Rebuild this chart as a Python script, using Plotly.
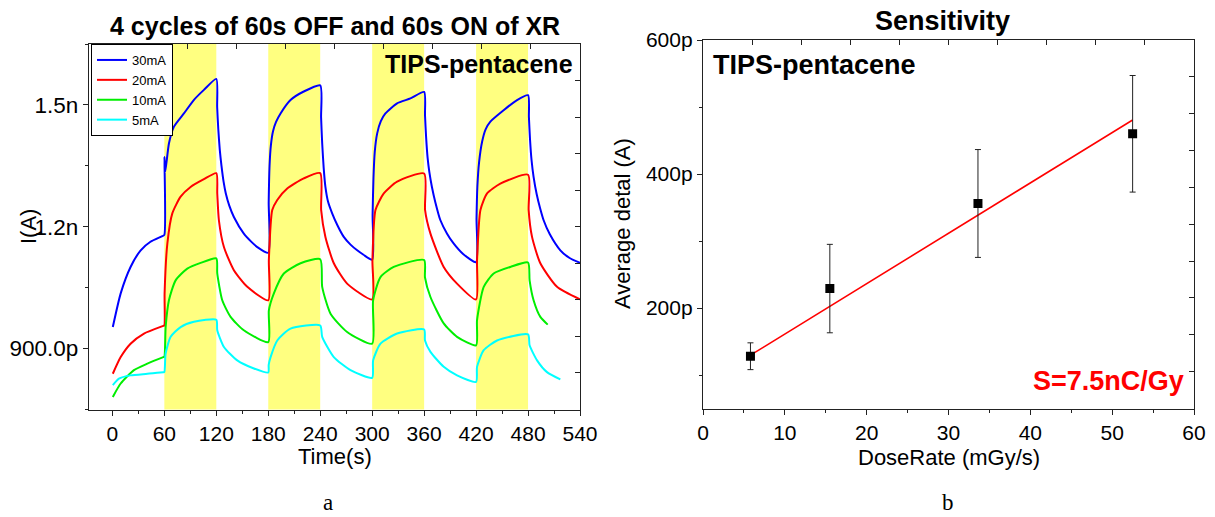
import numpy as np
import plotly.graph_objects as go

# ---------------- data: panel a (current vs time, values in pA) ----------------
on_start = [60, 180, 300, 420]
on_end = [120, 240, 360, 480]

t_30mA = [0.5, 9.6, 21, 32.7, 44, 57.7, 60,
          60.1, 61, 65.3, 71, 82.6, 94, 105.7, 120,
          121, 122.3, 124, 126, 128.5, 131, 135, 140.3, 151.8, 160, 167.3, 180,
          180.5, 181.5, 183, 185.5, 189, 194.2, 205.7, 221, 240,
          241, 242.3, 244, 246, 249, 253.8, 260, 267.2, 275, 282.7, 290, 300,
          300.5, 301.5, 303, 305.8, 310, 315.3, 328.8, 344.2, 360,
          361, 362.3, 364, 366, 369, 373, 378.8, 386.5, 394, 405, 420,
          420.5, 421.5, 423.5, 427, 431, 436.5, 451.8, 467.3, 480,
          481, 482.3, 484, 486.4, 490, 494, 498, 505, 517.3, 528, 540]
i_30mA = [953, 1036, 1101, 1142, 1163, 1177, 1180,
          1372, 1335, 1405, 1446, 1479, 1512, 1537, 1564,
          1495, 1440, 1390, 1350, 1310, 1282, 1252, 1224, 1183, 1164, 1150, 1136,
          1260, 1350, 1400, 1435, 1458, 1479, 1512, 1533, 1548,
          1470, 1405, 1345, 1298, 1262, 1233, 1203, 1175, 1156, 1142, 1131, 1119,
          1230, 1320, 1385, 1430, 1460, 1479, 1504, 1516, 1532,
          1475, 1420, 1370, 1335, 1298, 1260, 1216, 1183, 1159, 1133, 1113,
          1220, 1300, 1360, 1410, 1440, 1459, 1487, 1512, 1524,
          1470, 1415, 1365, 1323, 1280, 1245, 1216, 1182, 1142, 1123, 1111]

t_20mA = [0.5, 9.6, 21, 36.5, 58.8, 60,
          60.3, 63.5, 69.2, 78.8, 90.3, 105.7, 120,
          121.1, 123, 128.8, 140.3, 155.8, 180,
          180.7, 184.6, 190.4, 201.9, 221, 240,
          241.1, 246, 255.7, 271.1, 300,
          300.3, 303.8, 313.4, 328.8, 360,
          361.1, 367.3, 382.6, 398, 420,
          421.1, 425, 432.7, 448, 480,
          480.7, 484.6, 494.2, 513.5, 540]
i_20mA = [838, 879, 912, 937, 956, 957,
          1036, 1159, 1233, 1274, 1298, 1317, 1332,
          1282, 1216, 1150, 1093, 1052, 1019,
          1118, 1241, 1266, 1294, 1319, 1332,
          1241, 1175, 1110, 1060, 1021,
          1118, 1241, 1282, 1311, 1331,
          1241, 1183, 1101, 1060, 1021,
          1118, 1241, 1282, 1306, 1328,
          1241, 1175, 1110, 1052, 1021]

t_10mA = [0.5, 9.6, 24.9, 40.4, 58.8, 60,
          61.5, 65.3, 73, 86.5, 101.9, 120,
          121.1, 126.9, 136.5, 151.8, 180,
          180.7, 186.5, 198, 217.3, 240,
          242.3, 251.9, 271.1, 300,
          301.1, 309.6, 324.9, 360,
          361, 367.3, 382.6, 398, 420,
          421.1, 428.8, 440.3, 459.6, 480,
          481.8, 486.4, 494.2, 502.7]
i_10mA = [781, 814, 847, 863, 879, 880,
          953, 1019, 1068, 1097, 1111, 1122,
          1085, 1019, 978, 945, 916,
          994, 1036, 1085, 1110, 1120,
          1052, 986, 941, 912,
          1019, 1076, 1101, 1118,
          1075, 1027, 962, 929, 908,
          970, 1052, 1085, 1101, 1112,
          1068, 1019, 978, 959]

t_5mA = [0.5, 7.6, 21, 40.4, 58.8, 60,
         61.5, 67.3, 78.8, 94.2, 120,
         121.1, 128.8, 144.2, 163.4, 180,
         180.5, 182.7, 190.4, 205.7, 240,
         242.3, 255.7, 275, 300,
         301.1, 309.6, 328.8, 360,
         361, 367.3, 382.6, 398, 420,
         421.1, 428.8, 444.2, 480,
         481.8, 490.4, 501.9, 517.3]
i_5mA = [810, 826, 834, 838, 842, 842,
         888, 929, 953, 966, 971,
         945, 904, 871, 851, 841,
         860, 879, 920, 949, 957,
         929, 879, 847, 828,
         871, 912, 937, 947,
         920, 892, 855, 834, 818,
         855, 896, 920, 935,
         908, 871, 842, 824]

series_names = ["30mA", "20mA", "10mA", "5mA"]
series_t = [t_30mA, t_20mA, t_10mA, t_5mA]
series_i = [i_30mA, i_20mA, i_10mA, i_5mA]
series_colors = ["#0000ff", "#ff0000", "#00ee00", "#00ffff"]

xticks_a = [0, 60, 120, 180, 240, 300, 360, 420, 480, 540]
yticks_a = [900, 1200, 1500]
yticklabels_a = ["900.0p", "1.2n", "1.5n"]

# ---------------- data: panel b (sensitivity) ----------------
dose_rate = [5.8, 15.5, 33.6, 52.5]          # mGy/s
avg_delta = [128, 229, 356, 460]              # pA
avg_delta_err = [20, 66, 80.5, 87]            # pA
fit_x = [5.8, 52.5]
fit_y = [129.6, 480.6]
yticks_b = [200, 400, 600]
yticklabels_b = ["200p", "400p", "600p"]

# ---------------- layout helpers ----------------
W, H = 1215, 517
FONT = "Liberation Sans, Arial, sans-serif"


def px(x):
    return x / W


def py(y):
    return 1 - y / H


fig = go.Figure()

for name, t, i, c in zip(series_names, series_t, series_i, series_colors):
    fig.add_trace(go.Scatter(x=t, y=i, mode="lines", name=name,
                             line=dict(color=c, width=2, shape="spline", smoothing=0.6),
                             xaxis="x", yaxis="y"))

# dummy traces so the inside-tick overlay axes are drawn
fig.add_trace(go.Scatter(x=[None], y=[None], xaxis="x3", yaxis="y", showlegend=False, hoverinfo="skip"))
fig.add_trace(go.Scatter(x=[None], y=[None], xaxis="x", yaxis="y3", showlegend=False, hoverinfo="skip"))
fig.add_trace(go.Scatter(x=[None], y=[None], xaxis="x4", yaxis="y2", showlegend=False, hoverinfo="skip"))
fig.add_trace(go.Scatter(x=[None], y=[None], xaxis="x2", yaxis="y4", showlegend=False, hoverinfo="skip"))

fig.add_trace(go.Scatter(x=fit_x, y=fit_y, mode="lines", showlegend=False,
                         line=dict(color="#ff0000", width=1.6),
                         xaxis="x2", yaxis="y2"))
fig.add_trace(go.Scatter(x=dose_rate, y=avg_delta, mode="markers", showlegend=False,
                         marker=dict(symbol="square", size=9, color="black"),
                         error_y=dict(type="data", array=avg_delta_err, visible=True,
                                      color="#222222", thickness=1, width=3),
                         xaxis="x2", yaxis="y2"))

for a, b in zip(on_start, on_end):
    fig.add_shape(type="rect", xref="x", yref="y domain", x0=a, x1=b, y0=0, y1=1,
                  fillcolor="#ffff80", line=dict(width=0), layer="below")

dom_xa = [px(89), px(580)]
dom_ya = [py(409.5), py(44)]
dom_xb = [px(703), px(1194)]
dom_yb = [py(408.5), py(40)]

rng_xa = [-27, 540]
rng_ya = [750, 1650]
rng_xb = [0, 60]
rng_yb = [50, 600]

tickfont = dict(family=FONT, size=21, color="black")
common = dict(showgrid=False, zeroline=False, showline=True, linecolor="#222222",
              linewidth=1.3, mirror=True, ticks="outside", ticklen=5, tickwidth=1,
              tickcolor="#222222", tickfont=tickfont, automargin=False)
inside = dict(showgrid=False, zeroline=False, showline=False, ticks="inside",
              ticklen=5, tickwidth=1, tickcolor="#222222", showticklabels=False,
              tickmode="array", automargin=False)

fig.update_layout(
    template="none",
    width=W, height=H,
    margin=dict(l=0, r=0, t=0, b=0, autoexpand=False),
    paper_bgcolor="white", plot_bgcolor="rgba(0,0,0,0)",
    font=dict(family=FONT, color="black"),
    showlegend=True,
    legend=dict(x=px(91), y=py(44), xanchor="left", yanchor="top",
                bgcolor="white", bordercolor="black", borderwidth=1,
                font=dict(family=FONT, size=13, color="black"),
                itemwidth=30, tracegroupgap=0),
    xaxis=dict(domain=dom_xa, range=rng_xa, anchor="y", tickmode="array", tickvals=xticks_a,
               minor=dict(dtick=30, tick0=0, ticklen=3, ticks="outside", tickcolor="#222222"),
               **common),
    yaxis=dict(domain=dom_ya, range=rng_ya, anchor="x", tickmode="array", tickvals=yticks_a,
               ticktext=yticklabels_a,
               minor=dict(dtick=150, tick0=750, ticklen=3, ticks="outside", tickcolor="#222222"),
               **{**common, "tickfont": dict(family=FONT, size=22.5, color="black")}),
    xaxis3=dict(overlaying="x", side="top", anchor="y", range=rng_xa,
                tickvals=list(np.linspace(rng_xa[0], rng_xa[1], 11)), **inside),
    yaxis3=dict(overlaying="y", side="right", anchor="x", range=rng_ya,
                tickvals=list(np.linspace(rng_ya[0], rng_ya[1], 11)), **inside),
    xaxis2=dict(domain=dom_xb, range=rng_xb, anchor="y2", tickmode="linear", tick0=0, dtick=10,
                minor=dict(dtick=5, tick0=0, ticklen=3, ticks="outside", tickcolor="#222222"),
                **common),
    yaxis2=dict(domain=dom_yb, range=rng_yb, anchor="x2", tickmode="array", tickvals=yticks_b,
                ticktext=yticklabels_b,
                minor=dict(dtick=100, tick0=0, ticklen=3, ticks="outside", tickcolor="#222222"),
                **common),
    xaxis4=dict(overlaying="x2", side="top", anchor="y2", range=rng_xb,
                tickvals=list(np.linspace(rng_xb[0], rng_xb[1], 11)), **inside),
    yaxis4=dict(overlaying="y2", side="right", anchor="x2", range=rng_yb,
                tickvals=list(np.linspace(rng_yb[0], rng_yb[1], 11)), **inside),
)


def note(text, x, y, size, xanchor="center", color="black", angle=0, family=FONT):
    fig.add_annotation(text=text, x=px(x), y=py(y), xref="paper", yref="paper",
                       xanchor=xanchor, yanchor="middle", showarrow=False,
                       textangle=angle, font=dict(family=family, size=size, color=color))


note("<b>4 cycles of 60s OFF and 60s ON of XR</b>", 334.5, 26, 25)
note("<b>Sensitivity</b>", 942, 21, 27)
note("<b>TIPS-pentacene</b>", 575, 64, 25, xanchor="right")
note("<b>TIPS-pentacene</b>", 711, 65, 27, xanchor="left")
note("<b>S=7.5nC/Gy</b>", 1186, 381, 27, xanchor="right", color="#ff0000")
note("I(A)", 29, 227, 22, angle=-90)
note("Average detal (A)", 622, 224, 22, angle=-90)
note("Time(s)", 334.5, 456, 22)
note("DoseRate (mGy/s)", 948.5, 457, 22)
note("a", 328, 502, 23, family="Liberation Serif, Times New Roman, serif")
note("b", 948, 502, 23, family="Liberation Serif, Times New Roman, serif")

fig.write_html("out.html")
